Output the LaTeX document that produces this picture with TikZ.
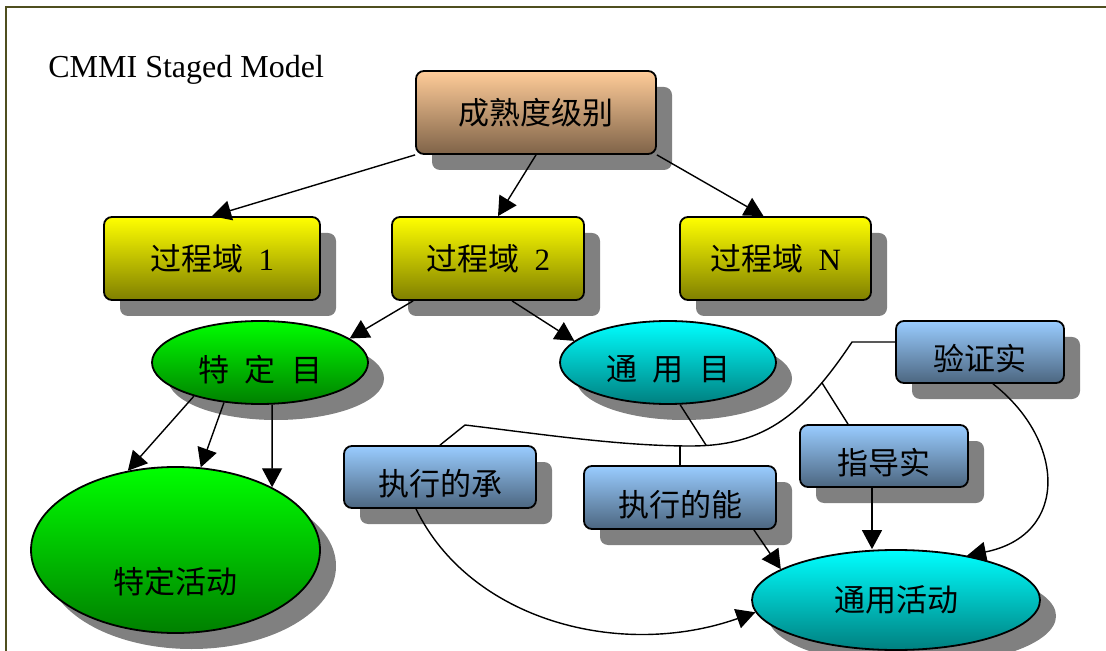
\documentclass[tikz,border=0pt]{standalone}
\usepackage{fontspec}
\setmainfont{Liberation Serif}
\newfontfamily\cjk{Noto Sans CJK SC}
\usetikzlibrary{shapes.geometric,shadows,arrows.meta}

\definecolor{framecol}{HTML}{4F4F1F}
\definecolor{peach}{HTML}{FFCC99}
\definecolor{peachdark}{HTML}{7F6348}
\definecolor{skyblue}{HTML}{99CCFF}
\definecolor{slateblue}{HTML}{4C6680}

\newcommand{\zh}[1]{{\cjk #1}}
\newcommand{\lowered}[2][3.5pt]{\raisebox{-#1}[\height][\depth]{#2}}

\tikzset{
  castshadow/.style={drop shadow={shadow xshift=8pt,shadow yshift=-8pt,fill=black!50,opacity=1}},
  nodebox/.style={castshadow,draw,line width=0.9pt,rounded corners=4pt,inner sep=2pt,
    font=\fontsize{15.5}{18}\selectfont},
  levelbox/.style={nodebox,minimum width=120pt,minimum height=41.5pt,top color=peach,bottom color=peachdark},
  areabox/.style={nodebox,minimum width=96pt,minimum height=41.5pt,top color=yellow,bottom color=yellow!50!black},
  practicebox/.style={nodebox,minimum width=96pt,minimum height=31pt,top color=skyblue,bottom color=slateblue},
  goal/.style={castshadow,ellipse,draw,line width=0.9pt,inner sep=1pt,minimum width=108pt,minimum height=41.5pt,
    font=\fontsize{15.5}{18}\selectfont},
  activity/.style={goal,minimum width=144pt},
  link/.style={line width=0.7pt}
}

\begin{document}
\begin{tikzpicture}[x=0.5pt,y=-0.5pt,>={Triangle[length=9.5pt,width=10pt]}]
  \useasboundingbox (0,0) rectangle (1106,651);
  \draw[framecol,line width=1pt] (6,7) rectangle (1140,690);
  \node[anchor=base west,inner sep=0pt,font=\fontsize{16}{19}\selectfont] (title) at (48,78) {CMMI Staged Model};

  \node[levelbox] (level) at (536,112.5) {\zh{成熟度级别}};
  \node[areabox,minimum width=108pt] (pa1) at (212,258.5) {\zh{过程域}\enspace 1};
  \node[areabox] (pa2) at (488,258.5) {\zh{过程域}\enspace 2};
  \node[areabox,minimum width=95.5pt] (paN) at (775.5,258.5) {\zh{过程域}\enspace N};

  \node[goal,top color=green,bottom color=green!50!black] (sg) at (260,362.5) {\lowered{\zh{特\enspace 定\enspace 目}}};
  \node[goal,top color=cyan,bottom color=cyan!50!black] (gg) at (668,362.5) {\lowered{\zh{通\enspace 用\enspace 目}}};
  \node[activity,minimum width=144.5pt,minimum height=83pt,top color=green,bottom color=green!50!black] (sp) at (175.5,550) {\lowered[16pt]{\zh{特定活动}}};
  \node[activity,minimum height=50pt,top color=cyan,bottom color=cyan!50!black] (ga) at (896,600) {\zh{通用活动}};

  \node[practicebox] (commit) at (440,477) {\lowered{\zh{执行的承}}};
  \node[practicebox,minimum height=31.5pt] (ability) at (680,497.5) {\lowered{\zh{执行的能}}};
  \node[practicebox,minimum width=84pt] (direct) at (884,456) {\lowered{\zh{指导实}}};
  \node[practicebox,minimum width=84pt] (verify) at (980,352) {\lowered{\zh{验证实}}};

  \draw[link,->] (level.south west) -- (pa1.north);
  \draw[link,->] (level.south) -- ([xshift=5pt]pa2.north);
  \draw[link,->] (level.south east) -- ([xshift=-6pt]paN.north);
  \draw[link,->] ([xshift=11pt]pa2.south west) -- (sg.15);
  \draw[link,->] ([xshift=12pt]pa2.south) -- (gg.167);

  \draw[link,->] (sg.207) -- (sp.121);
  \draw[link,->] (sg.228) -- (sp.73);
  \draw[link,->] (sg.286) -- (sp.33);

  \draw[link] ([yshift=5pt]verify.west) -- (852,342)
    .. controls (800,420) and (760,446) .. (690,446)
    coordinate[pos=0.2] (fork) coordinate[pos=0.92] (gjoin)
    .. controls (620,446) and (540,434) .. (465,425) -- (commit.north);
  \draw[link] (gg.286) -- (gjoin);
  \draw[link] (ability.north) -- (ability.north |- gjoin);
  \draw[link] (fork) -- ([xshift=-18pt]direct.north);

  \draw[link,->] ([xshift=-6pt]direct.south) -- ([xshift=-6pt]direct.south |- ga.north);
  \draw[link,->] ([xshift=-11.5pt]ability.south east) -- (ga.165);
  \draw[link,->] ([xshift=6.5pt]verify.south) .. controls (1065,440) and (1070,535) .. (ga.32);
  \draw[link,->] ([xshift=-12pt]commit.south) .. controls (470,620) and (620,660) .. (ga.185);
\end{tikzpicture}
\end{document}
